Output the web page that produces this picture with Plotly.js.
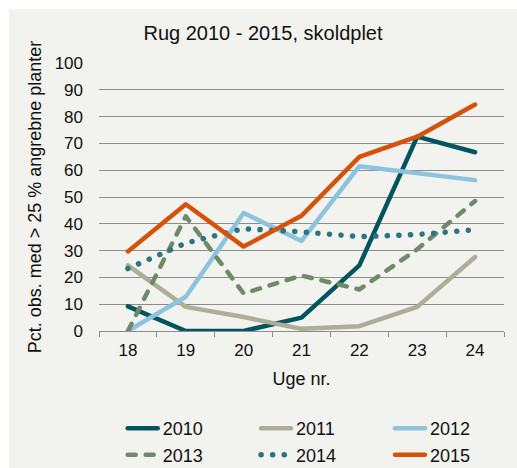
<!DOCTYPE html>
<html>
<head>
<meta charset="utf-8">
<script src="https://cdn.plot.ly/plotly-3.0.1.min.js"></script>
<style>
  html, body { margin: 0; padding: 0; background: #ffffff; }
  #chart { position: absolute; left: 9px; top: 9px; width: 508px; height: 459px; }
  .scatterlayer path.js-line, .legendlines path { stroke-linecap: round; stroke-linejoin: round; }
</style>
</head>
<body>
<div id="chart"></div>
<script>
const weeks = ['18', '19', '20', '21', '22', '23', '24'];
const y2010 = [9.2, 0, 0, 5, 24.5, 72.5, 66.7];
const y2011 = [24.5, 9, 5.2, 0.8, 1.8, 9, 27.6];
const y2012 = [0, 12.8, 44, 33.6, 61.5, 59, 56.3];
const y2013 = [0, 42.8, 14, 20.7, 15.5, 30.5, 48.5];
const y2014 = [23.3, 32.8, 38.2, 37, 35.2, 36, 37.8];
const y2015 = [29.7, 47.3, 31.5, 43, 65, 72.5, 84.5];
const seriesNames = ['2010', '2011', '2012', '2013', '2014', '2015'];

const seriesData = [y2010, y2011, y2012, y2013, y2014, y2015];
const colors = ['#02555F', '#ADAD98', '#8CC3DE', '#6E8A68', '#2C7484', '#D4520A'];
const dashes = ['solid', 'solid', 'solid', '8px,10px', '0.1px,11.5px', 'solid'];
const widths = [4.5, 4.5, 4.5, 4.5, 5.5, 4.5];

// one small legend per entry, arranged as 3 columns x 2 rows
const legendCols = [0.0585, 0.3877, 0.7185];
const legendRows = [-0.295, -0.394];
const legendKey = i => (i === 0 ? 'legend' : 'legend' + (i + 1));

const traces = seriesData.map((ys, i) => ({
  type: 'scatter',
  mode: 'lines',
  x: weeks,
  y: ys,
  name: seriesNames[i],
  legend: legendKey(i),
  line: { color: colors[i], width: widths[i], dash: dashes[i] },
  hoverinfo: 'skip'
}));

const FONT = 'Liberation Sans, Arial, sans-serif';

const layout = {
  width: 508,
  height: 459,
  paper_bgcolor: '#F2F2EE',
  plot_bgcolor: '#F2F2EE',
  margin: { l: 90, r: 13, t: 54, b: 137, autoexpand: false },
  font: { family: FONT, color: '#111111', size: 17 },
  title: {
    text: 'Rug 2010 - 2015, skoldplet',
    font: { family: FONT, size: 20, color: '#111111' },
    x: 0.5, xref: 'container', xanchor: 'center',
    y: 0.948, yref: 'container', yanchor: 'middle'
  },
  xaxis: {
    type: 'category',
    range: [-0.5, 6.5],
    showgrid: false,
    zeroline: false,
    showline: true,
    linecolor: '#8C8C8C',
    linewidth: 1,
    ticks: 'outside',
    tickson: 'boundaries',
    ticklen: 5,
    tickcolor: '#8C8C8C',
    ticklabelstandoff: 4,
    tickfont: { family: FONT, size: 17, color: '#111111' },
    title: { text: 'Uge nr.', font: { family: FONT, size: 18, color: '#111111' }, standoff: 12 },
    fixedrange: true
  },
  yaxis: {
    range: [0, 100],
    dtick: 10,
    showgrid: true,
    gridcolor: '#8C8C8C',
    gridwidth: 1,
    zeroline: false,
    showline: false,
    ticks: '',
    ticklabelstandoff: 15,
    tickfont: { family: FONT, size: 17, color: '#111111' },
    title: { text: 'Pct. obs. med > 25 % angrebne planter', font: { family: FONT, size: 18, color: '#111111' }, standoff: 8 },
    fixedrange: true
  },
  showlegend: true
};

seriesNames.forEach((nm, i) => {
  layout[legendKey(i)] = {
    orientation: 'v',
    x: legendCols[i % 3], xanchor: 'left',
    y: legendRows[Math.floor(i / 3)], yanchor: 'top',
    bgcolor: 'rgba(0,0,0,0)',
    borderwidth: 0,
    font: { family: FONT, size: 18, color: '#111111' }
  };
});

Plotly.newPlot('chart', traces, layout, { staticPlot: true, displayModeBar: false });
</script>
</body>
</html>
